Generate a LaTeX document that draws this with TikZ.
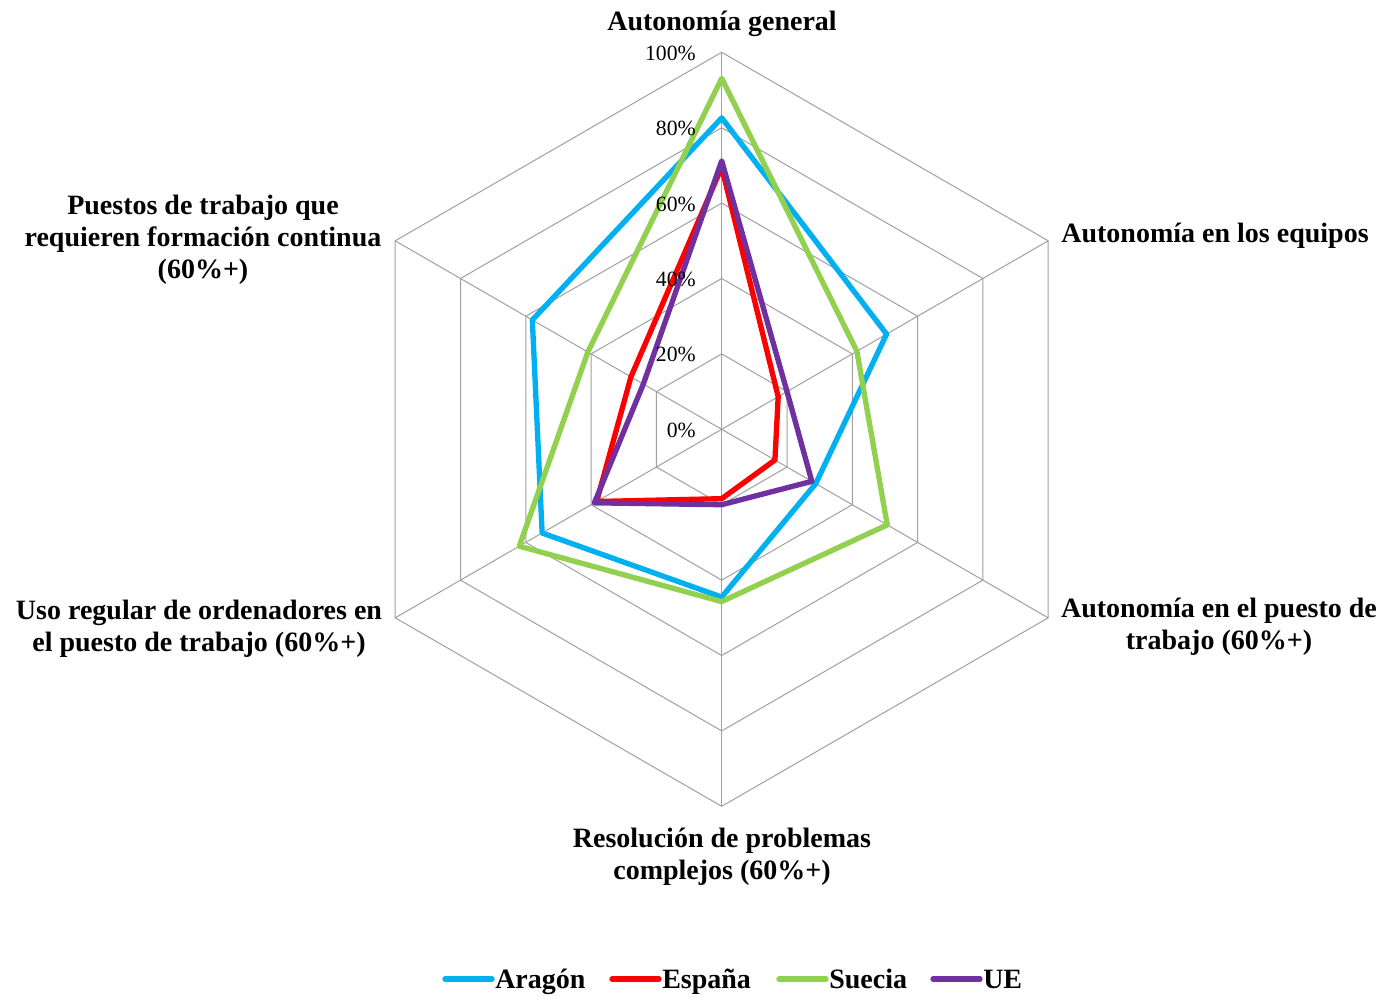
\documentclass[tikz,border=0pt]{standalone}
\usepackage{fontspec}
\setmainfont{Liberation Serif}
\definecolor{aragon}{HTML}{00B0F0}
\definecolor{espana}{HTML}{FF0000}
\definecolor{suecia}{HTML}{92D050}
\definecolor{ue}{HTML}{7030A0}
\definecolor{gridgray}{HTML}{A0A0A0}
\tikzset{
  gridline/.style={draw=gridgray, line width=0.75pt},
  series/.style={line width=4pt, line join=round},
  catlabel/.style={font=\fontsize{21}{24}\selectfont\bfseries, align=center, inner sep=0pt, anchor=base},
  ticklabel/.style={font=\fontsize{16.3}{19}\selectfont, inner sep=0pt, anchor=base east},
  legline/.style={line width=4pt, line cap=round},
  legtext/.style={font=\fontsize{21}{24}\selectfont\bfseries, inner sep=0pt, anchor=base west}
}
\begin{document}
\begin{tikzpicture}[x=0.75pt,y=-0.75pt]
\useasboundingbox[fill=white] (0,0) rectangle (1384,997);
\begin{scope}[shift={(721.7,429.3)}]
  \coordinate (c) at (0,0);
  % axis end points
  \foreach \a [count=\i] in {-90,-30,30,90,150,210} {
    \coordinate (ax\i) at (\a:377);
  }
  % rings
  \foreach \r in {75.4,150.8,226.2,301.6,377} {
    \draw[gridline] (-90:\r) -- (-30:\r) -- (30:\r) -- (90:\r) -- (150:\r) -- (210:\r) -- cycle;
  }
  % spokes
  \foreach \i in {1,...,6} {
    \draw[gridline] (c) -- (ax\i);
  }
  % series
  \draw[series, aragon] (-90:{0.826*377}) -- (-30:{0.505*377}) -- (30:{0.288*377}) -- (90:{0.445*377}) -- (150:{0.55*377}) -- (210:{0.58*377}) -- cycle;
  \draw[series, espana] (-90:{0.695*377}) -- (-30:{0.173*377}) -- (30:{0.163*377}) -- (90:{0.184*377}) -- (150:{0.383*377}) -- (210:{0.278*377}) -- cycle;
  \draw[series, suecia] (-90:{0.931*377}) -- (-30:{0.414*377}) -- (30:{0.507*377}) -- (90:{0.457*377}) -- (150:{0.62*377}) -- (210:{0.41*377}) -- cycle;
  \draw[series, ue] (-90:{0.712*377}) -- (-30:{0.20*377}) -- (30:{0.276*377}) -- (90:{0.20*377}) -- (150:{0.39*377}) -- (210:{0.24*377}) -- cycle;
\end{scope}
% tick labels
\node[ticklabel] (t100) at (696,60.3) {100\%};
\node[ticklabel] (t80) at (696,135.7) {80\%};
\node[ticklabel] (t60) at (696,211.1) {60\%};
\node[ticklabel] (t40) at (696,286.5) {40\%};
\node[ticklabel] (t20) at (696,361.9) {20\%};
\node[ticklabel] (t0) at (696,437.3) {0\%};
% category labels (base = last line baseline)
\node[catlabel] (lgen) at (722,30) {Autonomía general};
\node[catlabel] (lequ) at (1215,242) {Autonomía en los equipos};
\node[catlabel] (lpue) at (1219,649) {Autonomía en el puesto de\\trabajo (60\%+)};
\node[catlabel] (lres) at (722,879) {Resolución de problemas\\complejos (60\%+)};
\node[catlabel] (lord) at (199,651) {Uso regular de ordenadores en\\el puesto de trabajo (60\%+)};
\node[catlabel] (lfor) at (203,278) {Puestos de trabajo que\\requieren formación continua\\(60\%+)};
% legend
\coordinate (la1) at (445,979); \coordinate (la2) at (492,979);
\draw[legline, aragon] (la1) -- (la2);
\node[legtext] (lega) at (495,988) {Aragón};
\coordinate (le1) at (612,979); \coordinate (le2) at (659,979);
\draw[legline, espana] (le1) -- (le2);
\node[legtext] (lege) at (662,988) {España};
\coordinate (ls1) at (779,979); \coordinate (ls2) at (826,979);
\draw[legline, suecia] (ls1) -- (ls2);
\node[legtext] (legs) at (829,988) {Suecia};
\coordinate (lu1) at (933,979); \coordinate (lu2) at (980,979);
\draw[legline, ue] (lu1) -- (lu2);
\node[legtext] (legu) at (983,988) {UE};
\end{tikzpicture}
\end{document}
